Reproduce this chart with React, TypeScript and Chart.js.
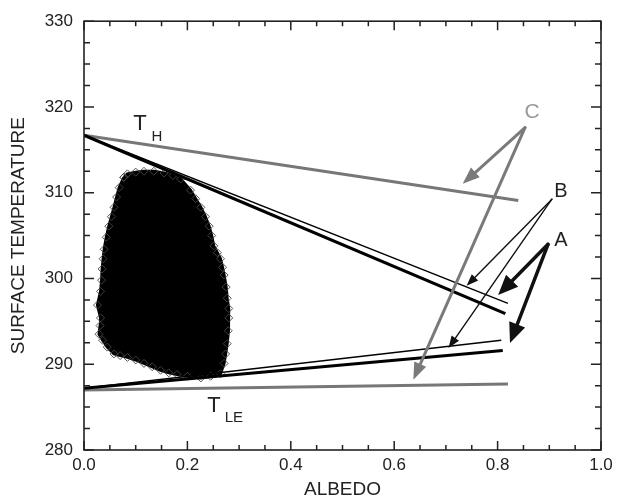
import React, { useEffect, useRef } from 'react';
import { Chart, registerables } from 'chart.js';

Chart.register(...registerables);

// ---- data ----
const X_TICKS = [0, 0.2, 0.4, 0.6, 0.8, 1.0];
const Y_TICKS = [280, 290, 300, 310, 320, 330];

const TH_LINE = [[0, 316.7], [0.84, 309.1]];
const UPPER_THIN = [[0, 316.7], [0.82, 297.1]];
const UPPER_THICK = [[0, 316.7], [0.815, 295.9]];
const LOWER_THIN = [[0, 287.2], [0.807, 292.8]];
const LOWER_THICK = [[0, 287.2], [0.81, 291.6]];
const TLE_LINE = [[0, 287.0], [0.82, 287.7]];

// outline of the dense cloud of model points (albedo, temperature)
const CLOUD = [
  [0.077, 311.8], [0.084, 312.2], [0.100, 312.4], [0.116, 312.5], [0.135, 312.5], [0.155, 312.3],
  [0.172, 312.0], [0.187, 311.6], [0.206, 310.3], [0.216, 309.3], [0.226, 308.3], [0.235, 307.2],
  [0.242, 306.1], [0.247, 305.0], [0.251, 303.8], [0.258, 303.0], [0.264, 302.3], [0.268, 301.3],
  [0.271, 300.4], [0.275, 299.0], [0.277, 297.7], [0.280, 296.5], [0.280, 295.4], [0.279, 293.9],
  [0.277, 292.4], [0.274, 291.2], [0.271, 290.1], [0.264, 288.9], [0.245, 288.6], [0.226, 288.4],
  [0.200, 288.6], [0.180, 288.8], [0.164, 289.0], [0.148, 289.3], [0.132, 289.7], [0.116, 290.1],
  [0.100, 290.5], [0.084, 290.8], [0.070, 291.0], [0.058, 291.2], [0.045, 292.0], [0.036, 292.8],
  [0.029, 293.5], [0.031, 294.5], [0.032, 295.4], [0.026, 296.9], [0.032, 298.5], [0.034, 299.8],
  [0.035, 301.1], [0.037, 302.3], [0.039, 303.4], [0.043, 304.8], [0.048, 306.1], [0.053, 307.2],
  [0.058, 308.3], [0.063, 309.5], [0.068, 310.6], [0.077, 311.8],
];

// arrows: [fromAlbedo, fromTemp, toAlbedo, toTemp]
const ARROWS_C = [[0.853, 317.58, 0.7325, 311.04], [0.853, 317.58, 0.637, 288.19]];
const ARROWS_B = [[0.905, 309.25, 0.740, 299.14], [0.905, 309.25, 0.705, 291.89]];
const ARROWS_A = [[0.8975, 303.99, 0.801, 298.07], [0.8975, 303.99, 0.824, 292.47]];

// text labels: [text, albedo, temp, size, color]
const LABELS: [string, number, number, number, string][] = [
  ['T', 0.1083, 318.0, 22, '#222'],
  ['H', 0.1412, 316.5, 15, '#222'],
  ['T', 0.2515, 285.1, 22, '#222'],
  ['LE', 0.290, 283.8, 15, '#222'],
  ['C', 0.8665, 319.4, 21, '#9a9a9a'],
  ['B', 0.9226, 310.1, 20, '#222'],
  ['A', 0.9226, 304.4, 20, '#222'],
];

const FONT = '"Liberation Sans", Arial, sans-serif';

const toPts = (arr: number[][]) => arr.map(([x, y]) => ({ x, y }));

function drawArrow(ctx: CanvasRenderingContext2D, x1: number, y1: number, x2: number, y2: number,
  color: string, lw: number, hl: number, hw: number) {
  const dx = x2 - x1, dy = y2 - y1;
  const len = Math.hypot(dx, dy);
  const ux = dx / len, uy = dy / len;
  const bx = x2 - ux * hl, by = y2 - uy * hl;
  ctx.strokeStyle = color;
  ctx.fillStyle = color;
  ctx.lineWidth = lw;
  ctx.lineCap = 'round';
  ctx.beginPath();
  ctx.moveTo(x1, y1);
  ctx.lineTo(bx + ux * 2, by + uy * 2);
  ctx.stroke();
  ctx.beginPath();
  ctx.moveTo(x2, y2);
  ctx.lineTo(bx - uy * hw / 2, by + ux * hw / 2);
  ctx.lineTo(bx + uy * hw / 2, by - ux * hw / 2);
  ctx.closePath();
  ctx.fill();
}

const overlay = {
  id: 'overlay',
  afterDatasetsDraw(chart: any) {
    const { ctx, chartArea: a, scales } = chart;
    const xs = scales.x, ys = scales.y;
    ctx.save();
    // frame
    ctx.strokeStyle = '#222';
    ctx.lineWidth = 1.6;
    ctx.strokeRect(a.left, a.top, a.right - a.left, a.bottom - a.top);
    // ticks (inward on all four sides)
    const drawX = (v: number, len: number) => {
      const px = xs.getPixelForValue(v);
      ctx.beginPath();
      ctx.moveTo(px, a.bottom); ctx.lineTo(px, a.bottom - len);
      ctx.moveTo(px, a.top); ctx.lineTo(px, a.top + len);
      ctx.stroke();
    };
    const drawY = (v: number, len: number) => {
      const py = ys.getPixelForValue(v);
      ctx.beginPath();
      ctx.moveTo(a.left, py); ctx.lineTo(a.left + len, py);
      ctx.moveTo(a.right, py); ctx.lineTo(a.right - len, py);
      ctx.stroke();
    };
    ctx.lineWidth = 1.5;
    for (let i = 0; i < X_TICKS.length; i++) {
      drawX(X_TICKS[i], 9);
      if (i < X_TICKS.length - 1) {
        const s = (X_TICKS[i + 1] - X_TICKS[i]) / 4;
        for (let k = 1; k < 4; k++) drawX(X_TICKS[i] + s * k, 5);
      }
    }
    for (let i = 0; i < Y_TICKS.length; i++) {
      drawY(Y_TICKS[i], 10);
      if (i < Y_TICKS.length - 1) {
        const s = (Y_TICKS[i + 1] - Y_TICKS[i]) / 4;
        for (let k = 1; k < 4; k++) drawY(Y_TICKS[i] + s * k, 6);
      }
    }
    // arrows
    const P = (r: number[]) => [xs.getPixelForValue(r[0]), ys.getPixelForValue(r[1]),
      xs.getPixelForValue(r[2]), ys.getPixelForValue(r[3])];
    ARROWS_C.forEach(r => { const [a1, b1, c1, d1] = P(r); drawArrow(ctx, a1, b1, c1, d1, '#7a7a7a', 3, 17, 13); });
    ARROWS_B.forEach(r => { const [a1, b1, c1, d1] = P(r); drawArrow(ctx, a1, b1, c1, d1, '#111', 1.4, 12, 9); });
    ARROWS_A.forEach(r => { const [a1, b1, c1, d1] = P(r); drawArrow(ctx, a1, b1, c1, d1, '#111', 3.5, 20, 17); });
    // labels
    ctx.textAlign = 'center';
    ctx.textBaseline = 'middle';
    LABELS.forEach(([t, x, y, size, color]) => {
      ctx.font = `${size}px ${FONT}`;
      ctx.fillStyle = color;
      ctx.fillText(t, xs.getPixelForValue(x), ys.getPixelForValue(y));
    });
    ctx.restore();
  },
};

export default function App() {
  const ref = useRef<HTMLCanvasElement>(null);
  useEffect(() => {
    document.body.style.margin = '0';
    const lineDs = (data: number[][], color: string, width: number) => ({
      type: 'line' as const,
      data: toPts(data),
      borderColor: color,
      borderWidth: width,
      pointRadius: 0,
      showLine: true,
      fill: false,
      tension: 0,
    });
    const chart = new Chart(ref.current!, {
      type: 'scatter',
      data: {
        datasets: [
          lineDs(UPPER_THICK, '#000', 3.2),
          lineDs(UPPER_THIN, '#000', 1.4),
          lineDs(LOWER_THICK, '#000', 3.2),
          lineDs(LOWER_THIN, '#000', 1.4),
          lineDs(TH_LINE, '#777', 3),
          lineDs(TLE_LINE, '#777', 3),
          {
            type: 'line' as const,
            data: toPts(CLOUD),
            borderColor: '#000',
            borderWidth: 3,
            backgroundColor: '#000',
            fill: 'shape',
            showLine: true,
            tension: 0,
            pointStyle: 'rectRot',
            pointRadius: 4,
            pointBorderColor: 'rgba(70,70,70,0.9)',
            pointBackgroundColor: 'rgba(0,0,0,0)',
            pointBorderWidth: 1,
          } as any,
        ],
      },
      options: {
        animation: false,
        responsive: true,
        maintainAspectRatio: false,
        layout: { padding: { top: 12, right: 25, left: 0, bottom: 0 } },
        plugins: { legend: { display: false }, tooltip: { enabled: false } },
        scales: {
          x: {
            type: 'linear',
            min: 0,
            max: 1,
            afterFit: (s: any) => { s.height = 52; },
            afterBuildTicks: (s: any) => { s.ticks = X_TICKS.map(v => ({ value: v })); },
            ticks: {
              padding: 5,
              color: '#222',
              font: { family: FONT, size: 17 },
              callback: (v: any) => Number(v).toFixed(1),
              maxRotation: 0,
              autoSkip: false,
            },
            grid: { display: false, drawTicks: false },
            border: { display: false },
            title: { display: true, text: 'ALBEDO', color: '#222', font: { family: FONT, size: 19 }, padding: { top: 0, bottom: 1 } },
          },
          y: {
            type: 'linear',
            min: 280,
            max: 330,
            afterFit: (s: any) => { s.width = 84; },
            afterBuildTicks: (s: any) => { s.ticks = Y_TICKS.map(v => ({ value: v })); },
            ticks: {
              padding: 11,
              color: '#222',
              font: { family: FONT, size: 17 },
              autoSkip: false,
            },
            grid: { display: false, drawTicks: false },
            border: { display: false },
            title: { display: true, text: 'SURFACE TEMPERATURE', color: '#222', font: { family: FONT, size: 19 }, padding: { top: 7, bottom: 0 } },
          },
        },
      },
      plugins: [overlay],
    } as any);
    return () => chart.destroy();
  }, []);
  return (
    <div style={{ position: 'relative', width: 626, height: 502 }}>
      <canvas ref={ref} />
    </div>
  );
}
